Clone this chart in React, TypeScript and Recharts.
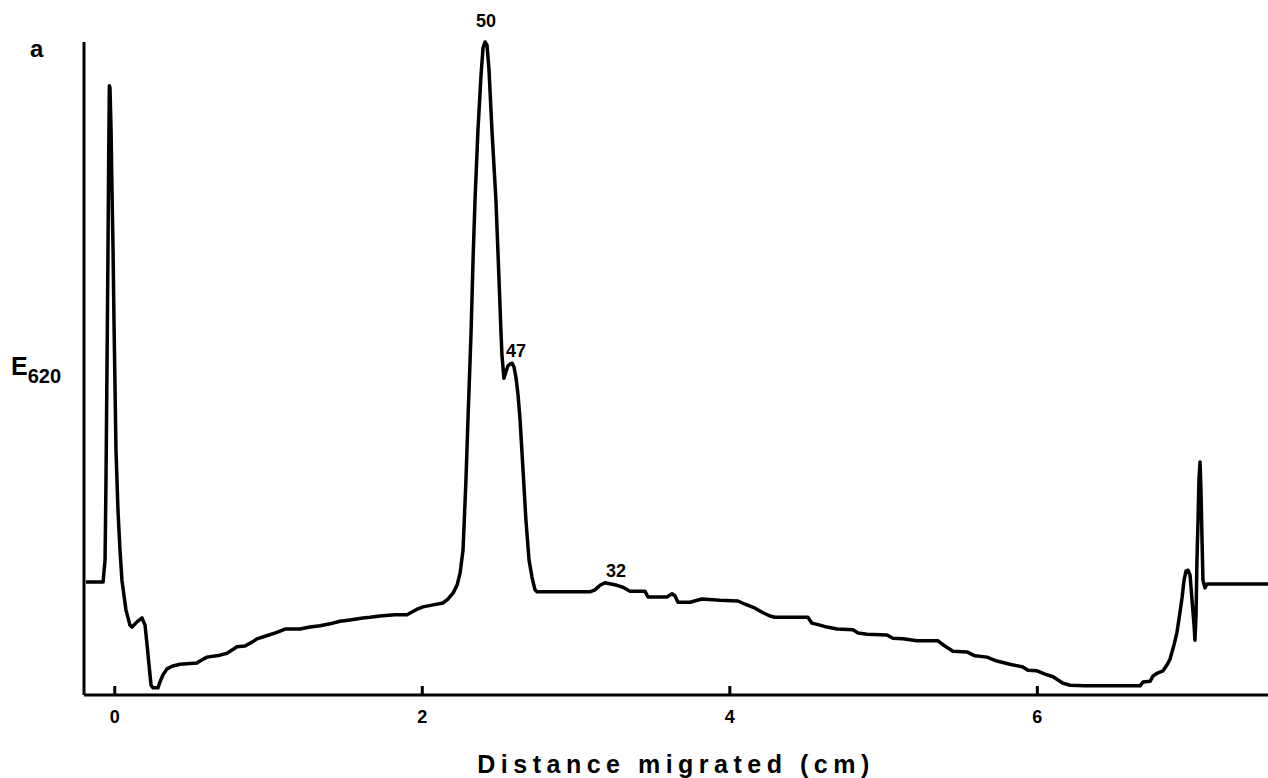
import React from 'react';
import { LineChart, Line, XAxis, YAxis, ReferenceDot } from 'recharts';

// Distance migrated (cm)
const distanceCm = [
  -0.187, -0.076, -0.063, -0.057, -0.050, -0.044, -0.039, -0.035, -0.031, -0.024,
  -0.018, -0.011, -0.005, 0.002, 0.008, 0.021, 0.034, 0.047, 0.073, 0.099,
  0.112, 0.145, 0.177, 0.197, 0.210, 0.223, 0.236, 0.249, 0.281, 0.294,
  0.314, 0.340, 0.372, 0.424, 0.535, 0.554, 0.600, 0.685, 0.730, 0.763,
  0.795, 0.847, 0.893, 0.925, 0.977, 1.055, 1.107, 1.205, 1.270, 1.335,
  1.400, 1.465, 1.530, 1.614, 1.660, 1.725, 1.822, 1.901, 1.933, 1.972,
  2.005, 2.070, 2.135, 2.167, 2.200, 2.226, 2.246, 2.265, 2.284, 2.297,
  2.317, 2.330, 2.343, 2.362, 2.382, 2.395, 2.408, 2.421, 2.434, 2.453,
  2.479, 2.499, 2.512, 2.518, 2.531, 2.544, 2.557, 2.570, 2.584, 2.597,
  2.610, 2.623, 2.636, 2.655, 2.674, 2.694, 2.713, 2.733, 2.746, 3.090,
  3.123, 3.156, 3.188, 3.266, 3.305, 3.351, 3.448, 3.468, 3.591, 3.624,
  3.643, 3.663, 3.741, 3.819, 3.936, 4.053, 4.099, 4.164, 4.216, 4.261,
  4.294, 4.508, 4.534, 4.586, 4.632, 4.697, 4.801, 4.834, 4.892, 5.022,
  5.061, 5.126, 5.217, 5.354, 5.386, 5.451, 5.542, 5.594, 5.672, 5.737,
  5.822, 5.906, 5.939, 5.998, 6.050, 6.102, 6.167, 6.213, 6.310, 6.668,
  6.687, 6.733, 6.752, 6.785, 6.817, 6.843, 6.863, 6.889, 6.908, 6.928,
  6.941, 6.954, 6.967, 6.980, 6.993, 7.006, 7.019, 7.025, 7.032, 7.038,
  7.045, 7.051, 7.058, 7.064, 7.071, 7.077, 7.090, 7.103, 7.500,
];

// Extinction at 620 nm (arbitrary units, 0-100)
const e620 = [
  17.3, 17.3, 20.7, 32.9, 51.3, 68.1, 83.5, 93.3, 93.0, 86.5,
  77.3, 68.1, 57.4, 46.7, 37.5, 28.3, 22.2, 17.5, 13.0, 10.7,
  10.4, 11.2, 11.8, 10.7, 7.7, 4.6, 1.5, 1.1, 1.1, 2.0,
  3.1, 4.0, 4.4, 4.7, 4.9, 5.2, 5.8, 6.1, 6.4, 6.9,
  7.4, 7.5, 8.1, 8.6, 9.0, 9.6, 10.1, 10.1, 10.4, 10.6,
  10.9, 11.3, 11.5, 11.8, 11.9, 12.1, 12.3, 12.3, 12.7, 13.2,
  13.5, 13.8, 14.1, 14.7, 15.6, 16.8, 18.7, 22.2, 32.9, 42.1,
  55.4, 66.6, 75.8, 86.5, 94.9, 99.1, 100, 99.5, 95.7, 86.5,
  75.8, 63.6, 55.4, 52.1, 48.5, 49.5, 50.4, 50.7, 50.8, 50.2,
  48.5, 45.9, 42.1, 34.5, 26.8, 20.7, 18.1, 16.1, 15.8, 15.8,
  16.1, 16.8, 17.2, 16.8, 16.5, 15.9, 15.9, 15.0, 15.0, 15.5,
  15.2, 14.2, 14.2, 14.7, 14.5, 14.4, 13.9, 13.3, 12.6, 12.1,
  11.9, 11.9, 11.0, 10.7, 10.4, 10.1, 10.0, 9.5, 9.3, 9.2,
  8.7, 8.6, 8.3, 8.3, 7.7, 6.7, 6.6, 6.0, 5.8, 5.2,
  4.7, 4.3, 3.8, 3.7, 3.2, 2.8, 1.8, 1.5, 1.4, 1.4,
  2.0, 2.1, 2.9, 3.4, 3.7, 4.6, 5.5, 7.7, 9.6, 12.7,
  14.9, 17.6, 19.0, 19.1, 18.4, 14.5, 10.7, 8.4, 12.3, 20.7,
  26.8, 32.9, 35.7, 31.4, 23.7, 17.6, 16.4, 17.0, 17.0,
];

const xTicks = [0, 2, 4, 6];

// Peak annotations (label baseline position in data units)
const peakLabelText = ['50', '47', '32'];
const peakLabelCm = [2.414, 2.609, 3.26];
const peakLabelE620 = [102.3, 51.8, 18.1];

const data = distanceCm.map((d, i) => ({ d, e: e620[i] }));

const FONT = '"Liberation Sans", Arial, Helvetica, sans-serif';

function BottomTick(props: any) {
  const { x, y, payload } = props;
  return (
    <g>
      <line x1={x} y1={y} x2={x} y2={y - 9} stroke="#000" strokeWidth={3} />
      <text
        x={x}
        y={y + 28}
        textAnchor="middle"
        fontSize={18}
        fontWeight="bold"
        fontFamily={FONT}
        fill="#000"
      >
        {payload.value}
      </text>
    </g>
  );
}

const xLabel = (p: any) => {
  const vb = p.viewBox;
  return (
    <text
      x={vb.x + vb.width / 2}
      y={vb.y + 78}
      textAnchor="middle"
      fontSize={25}
      fontWeight="bold"
      fontFamily={FONT}
      fill="#000"
      style={{ letterSpacing: '5.5px' }}
    >
      Distance migrated (cm)
    </text>
  );
};

const yLabel = (p: any) => {
  const vb = p.viewBox;
  return (
    <text x={vb.x + 11} y={vb.y + 333} fontWeight="bold" fontFamily={FONT} fill="#000">
      <tspan fontSize={25}>E</tspan>
      <tspan fontSize={20} dy={8}>620</tspan>
    </text>
  );
};

export default function App() {
  return (
    <div
      style={{
        position: 'absolute',
        left: 0,
        top: 0,
        width: 1268,
        height: 778,
        background: '#fff',
      }}
    >
      <div
        style={{
          position: 'absolute',
          left: 30,
          top: 37,
          fontSize: 24,
          lineHeight: '24px',
          fontWeight: 'bold',
          fontFamily: FONT,
          color: '#000',
        }}
      >
        a
      </div>
      <LineChart
        width={1268}
        height={778}
        data={data}
        margin={{ top: 42, right: 0, bottom: 0, left: 0 }}
      >
        <XAxis
          dataKey="d"
          type="number"
          domain={[-0.2, 7.5]}
          ticks={xTicks}
          interval={0}
          tick={<BottomTick />}
          tickLine={false}
          tickSize={0}
          tickMargin={0}
          axisLine={{ stroke: '#000', strokeWidth: 3 }}
          height={83}
          label={{ content: xLabel }}
        />
        <YAxis
          type="number"
          domain={[0, 100]}
          width={84}
          tick={false}
          tickLine={false}
          axisLine={{ stroke: '#000', strokeWidth: 3 }}
          label={{ content: yLabel }}
        />
        <Line
          dataKey="e"
          type="linear"
          stroke="#000"
          strokeWidth={3.5}
          strokeLinejoin="round"
          dot={false}
          activeDot={false}
          isAnimationActive={false}
        />
        {peakLabelText.map((t, i) => (
          <ReferenceDot
            key={t}
            x={peakLabelCm[i]}
            y={peakLabelE620[i]}
            r={0}
            fill="none"
            stroke="none"
            ifOverflow="visible"
            label={{
              content: (p: any) => (
                <text
                  x={p.viewBox.x}
                  y={p.viewBox.y}
                  textAnchor="middle"
                  fontSize={18}
                  fontWeight="bold"
                  fontFamily={FONT}
                  fill="#000"
                >
                  {t}
                </text>
              ),
            }}
          />
        ))}
      </LineChart>
    </div>
  );
}
